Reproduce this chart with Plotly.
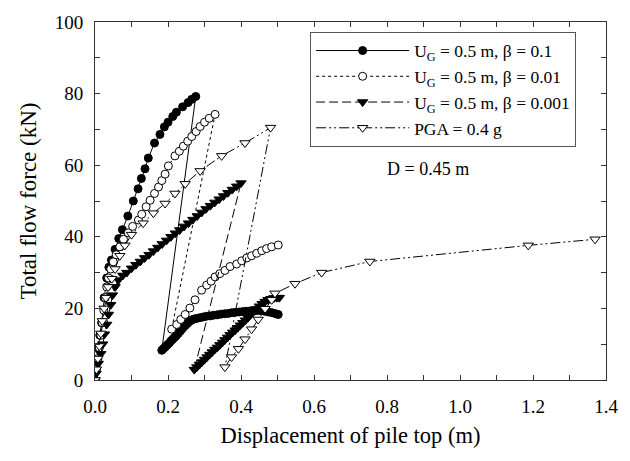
import plotly.graph_objects as go

# ---------------- data ----------------
# U_G = 0.5 m, beta = 0.1 (loading, then unloading line, then second branch)
x_b01 = [0, 0.004, 0.009, 0.013, 0.018, 0.025, 0.032, 0.038, 0.045, 0.055, 0.065, 0.075,
         0.090, 0.105, 0.118, 0.127, 0.137, 0.146, 0.163, 0.178, 0.190, 0.200, 0.213, 0.223,
         0.240, 0.255, 0.265, 0.276,
         0.183, 0.188, 0.193, 0.198, 0.203, 0.208, 0.213, 0.218, 0.223, 0.228, 0.233, 0.238,
         0.243, 0.248, 0.253, 0.258, 0.264, 0.270, 0.278, 0.287, 0.296, 0.305, 0.315, 0.325,
         0.335, 0.345, 0.355, 0.365, 0.375, 0.385, 0.395, 0.405, 0.415, 0.425, 0.435, 0.445,
         0.455, 0.465, 0.475, 0.485, 0.495, 0.502]
y_b01 = [0, 4.5, 9.0, 12.5, 16.0, 23.0, 28.5, 31.5, 33.5, 36.5, 39.5, 42.0,
         45.8, 50.0, 53.4, 56.3, 59.0, 62.0, 66.2, 68.6, 70.7, 72.0, 73.6, 74.8,
         76.3, 77.5, 78.4, 79.2,
         8.3, 8.8, 9.3, 9.8, 10.3, 10.9, 11.4, 11.9, 12.4, 13.0, 13.6, 14.2,
         14.8, 15.3, 15.8, 16.3, 16.7, 17.0, 17.2, 17.4, 17.6, 17.8, 17.9, 18.1,
         18.2, 18.4, 18.5, 18.6, 18.8, 18.9, 19.0, 19.1, 19.2, 19.3, 19.4, 19.4,
         19.4, 19.2, 19.0, 18.8, 18.5, 18.3]

# U_G = 0.5 m, beta = 0.01
x_b001 = [0, 0.004, 0.008, 0.012, 0.016, 0.020, 0.024, 0.028, 0.032, 0.037, 0.043, 0.050,
          0.058, 0.068, 0.078, 0.091, 0.103, 0.119, 0.128, 0.140, 0.151, 0.163, 0.174, 0.183,
          0.192, 0.201, 0.219, 0.231, 0.242, 0.254, 0.265, 0.277, 0.288, 0.300, 0.313, 0.329,
          0.210, 0.224, 0.235, 0.247, 0.260, 0.274, 0.292, 0.306, 0.318, 0.329, 0.342, 0.356,
          0.370, 0.388, 0.402, 0.416, 0.429, 0.443, 0.457, 0.470, 0.484, 0.502]
y_b001 = [0, 3.0, 6.0, 9.0, 12.5, 16.0, 19.5, 23.0, 26.0, 28.5, 31.0, 33.0,
          35.0, 37.2, 39.3, 41.1, 42.9, 44.7, 46.3, 48.4, 50.2, 52.1, 53.9, 55.7,
          57.5, 59.8, 62.6, 63.9, 65.3, 66.7, 68.0, 69.4, 70.8, 72.0, 73.1, 74.2,
          14.2, 15.5, 16.9, 18.3, 20.1, 22.4, 25.1, 26.5, 27.6, 28.8, 29.7, 30.6,
          31.7, 32.4, 33.3, 34.1, 34.7, 35.4, 36.1, 36.7, 37.2, 37.7]

# U_G = 0.5 m, beta = 0.001
x_b0001 = [0, 0.003, 0.009, 0.016, 0.021, 0.026, 0.032, 0.037, 0.043, 0.048, 0.055, 0.064,
           0.076, 0.087, 0.100, 0.112, 0.124, 0.136, 0.148, 0.160, 0.172, 0.184, 0.196, 0.208,
           0.220, 0.232, 0.244, 0.256, 0.268, 0.280, 0.292, 0.304, 0.316, 0.328, 0.340, 0.352,
           0.364, 0.376, 0.388, 0.400,
           0.272, 0.279, 0.286, 0.293, 0.300, 0.307, 0.314, 0.321, 0.328, 0.335, 0.342, 0.349,
           0.356, 0.363, 0.370, 0.377, 0.384, 0.391, 0.398, 0.405, 0.412, 0.419, 0.426, 0.434,
           0.442, 0.450, 0.458, 0.466, 0.474, 0.482, 0.490, 0.498, 0.505]
y_b0001 = [0, 1.8, 4.6, 7.3, 10.0, 12.8, 15.5, 18.3, 21.0, 23.7, 26.0, 27.9,
           29.2, 30.0, 31.2, 32.2, 33.1, 34.1, 35.0, 36.0, 37.0, 38.0, 39.0, 40.0,
           41.0, 41.9, 42.9, 43.8, 44.8, 45.8, 46.8, 47.8, 48.7, 49.6, 50.5, 51.4,
           52.3, 53.2, 54.1, 55.0,
           2.9, 3.6, 4.3, 5.0, 5.7, 6.4, 7.1, 7.8, 8.5, 9.1, 9.8, 10.5,
           11.2, 11.9, 12.6, 13.3, 13.9, 14.6, 15.3, 16.0, 16.7, 17.4, 18.2, 19.0,
           19.8, 20.6, 21.3, 21.9, 22.4, 22.7, 22.9, 23.0, 23.0]

# PGA = 0.4 g
x_pga = [0, 0.004, 0.008, 0.012, 0.016, 0.020, 0.025, 0.030, 0.036, 0.046, 0.055, 0.068,
         0.082, 0.100, 0.132, 0.160, 0.192, 0.219, 0.247, 0.288, 0.347, 0.411, 0.481,
         0.356, 0.374, 0.393, 0.411, 0.429, 0.447, 0.466, 0.484, 0.493, 0.548, 0.621,
         0.753, 1.187, 1.370]
y_pga = [0, 3.0, 6.0, 9.5, 13.0, 16.5, 20.0, 23.0, 26.0, 28.3, 31.0, 34.7,
         37.6, 40.6, 43.8, 46.6, 49.3, 52.1, 54.8, 58.4, 62.6, 66.2, 70.5,
         3.6, 6.4, 8.7, 11.4, 14.2, 16.9, 19.9, 22.4, 24.2, 26.9, 30.0,
         33.1, 37.6, 39.3]

legend_names = ["U<sub>G</sub> = 0.5 m, β = 0.1",
                "U<sub>G</sub> = 0.5 m, β = 0.01",
                "U<sub>G</sub> = 0.5 m, β = 0.001",
                "PGA = 0.4 g"]
note_text = "D = 0.45 m"
note_x, note_y = 0.795, 59.0

x_ticks = [i / 10 for i in range(15)]
x_ticktext = [f"{v:.1f}" if i % 2 == 0 else "" for i, v in enumerate(x_ticks)]
y_ticks = list(range(0, 101, 10))
y_ticktext = [str(v) if v % 20 == 0 else "" for v in y_ticks]

FONT = "Liberation Serif, Times New Roman, serif"
INK = "#000000"
AX = "#333333"

fig = go.Figure()

fig.add_trace(go.Scatter(
    x=x_b01, y=y_b01, name=legend_names[0], mode="lines+markers",
    line=dict(color=INK, width=1, dash="solid"),
    marker=dict(symbol="circle", size=8, color=INK, line=dict(color=INK, width=1))))
fig.add_trace(go.Scatter(
    x=x_b001, y=y_b001, name=legend_names[1], mode="lines+markers",
    line=dict(color=INK, width=1, dash="dot"),
    marker=dict(symbol="circle", size=8, color="white", line=dict(color=INK, width=1))))
fig.add_trace(go.Scatter(
    x=x_b0001, y=y_b0001, name=legend_names[2], mode="lines+markers",
    line=dict(color=INK, width=1, dash="9px,4px"),
    marker=dict(symbol="triangle-down", size=9, color=INK, line=dict(color=INK, width=1))))
fig.add_trace(go.Scatter(
    x=x_pga, y=y_pga, name=legend_names[3], mode="lines+markers",
    line=dict(color=INK, width=1, dash="10px,3px,2px,3px,2px,3px"),
    marker=dict(symbol="triangle-down", size=9, color="white", line=dict(color=INK, width=1))))

fig.add_annotation(x=note_x, y=note_y, xref="x", yref="y", text=note_text,
                   showarrow=False, xanchor="left", yanchor="middle",
                   font=dict(family=FONT, size=18, color=INK))

axis_common = dict(
    showline=True, linecolor=AX, linewidth=1, mirror="ticks",
    ticks="inside", ticklen=5, tickcolor=AX, tickwidth=1,
    showgrid=False, zeroline=False,
    tickfont=dict(family=FONT, size=19, color=INK),
)

fig.update_layout(
    width=630, height=461,
    margin=dict(l=95, r=24, t=15, b=81),
    paper_bgcolor="white", plot_bgcolor="white",
    font=dict(family=FONT, color=INK),
    xaxis=dict(range=[0, 1.4], tickvals=x_ticks, ticktext=x_ticktext,
               ticklabelstandoff=9,
               title=dict(text="Displacement of pile top (m)",
                          font=dict(family=FONT, size=22.5, color=INK), standoff=11),
               **axis_common),
    yaxis=dict(range=[0, 100], tickvals=y_ticks, ticktext=y_ticktext,
               ticklabelstandoff=7,
               title=dict(text="Total flow force (kN)",
                          font=dict(family=FONT, size=23, color=INK), standoff=11),
               **axis_common),
    showlegend=True,
    legend=dict(x=0.421, y=0.973, xanchor="left", yanchor="top",
                bgcolor="white", bordercolor="#555555", borderwidth=1,
                font=dict(family=FONT, size=17.5, color=INK),
                itemwidth=93, tracegroupgap=0),
)

fig.write_html("out.html")
